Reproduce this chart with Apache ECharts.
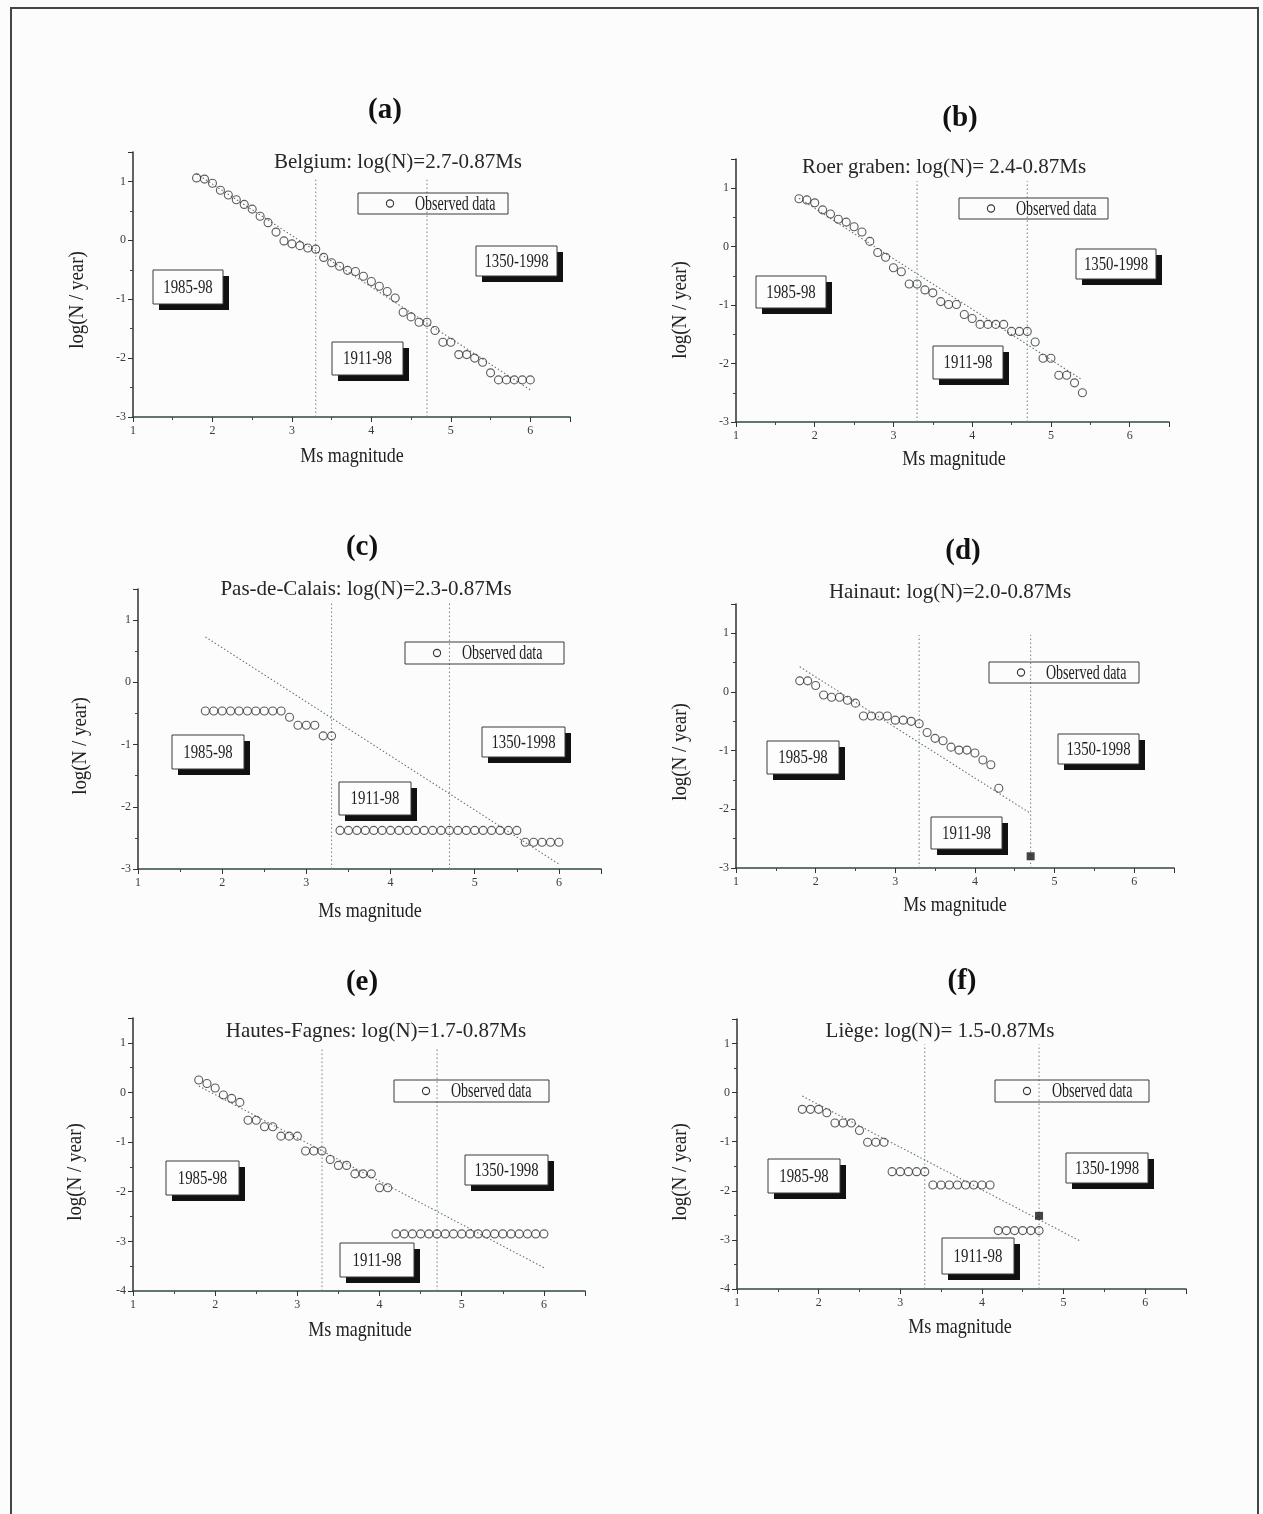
<!DOCTYPE html>
<html>
<head>
<meta charset="utf-8">
<script src="https://cdn.jsdelivr.net/npm/echarts@6/dist/echarts.min.js"></script>
<style>
  html, body { margin: 0; padding: 0; background: #fcfcfc; }
  #chart { width: 1263px; height: 1514px; }
</style>
</head>
<body>
<div id="chart"></div>
<script>
// ---- Data: cumulative annual rate, log(N / year), per Ms magnitude bin ----
const panelLetters = ['(a)', '(b)', '(c)', '(d)', '(e)', '(f)'];
const regionTitles = [
  'Belgium: log(N)=2.7-0.87Ms',
  'Roer graben: log(N)= 2.4-0.87Ms',
  'Pas-de-Calais: log(N)=2.3-0.87Ms',
  'Hainaut: log(N)=2.0-0.87Ms',
  'Hautes-Fagnes: log(N)=1.7-0.87Ms',
  'Liège: log(N)= 1.5-0.87Ms'
];
const periodLabels = ['1985-98', '1911-98', '1350-1998'];
const legendLabel = 'Observed data';
const xAxisTitle = 'Ms magnitude';
const yAxisTitle = 'log(N / year)';
const xTicks = [1, 2, 3, 4, 5, 6];
const completenessBreaks = [3.3, 4.7];

// (a) Belgium
const magA = [1.8,1.9,2.0,2.1,2.2,2.3,2.4,2.5,2.6,2.7,2.8,2.9,3.0,3.1,3.2,3.3,3.4,3.5,3.6,3.7,3.8,3.9,4.0,4.1,4.2,4.3,4.4,4.5,4.6,4.7,4.8,4.9,5.0,5.1,5.2,5.3,5.4,5.5,5.6,5.7,5.8,5.9,6.0];
const logA = [1.06,1.04,0.97,0.85,0.77,0.69,0.61,0.53,0.41,0.30,0.14,-0.01,-0.06,-0.09,-0.13,-0.15,-0.29,-0.38,-0.44,-0.51,-0.53,-0.61,-0.70,-0.78,-0.87,-0.98,-1.22,-1.30,-1.39,-1.39,-1.53,-1.73,-1.73,-1.94,-1.94,-2.00,-2.07,-2.25,-2.37,-2.37,-2.37,-2.37,-2.37];
const fitA = [[1.8, 1.13], [6.0, -2.54]];

// (b) Roer graben
const magB = [1.8,1.9,2.0,2.1,2.2,2.3,2.4,2.5,2.6,2.7,2.8,2.9,3.0,3.1,3.2,3.3,3.4,3.5,3.6,3.7,3.8,3.9,4.0,4.1,4.2,4.3,4.4,4.5,4.6,4.7,4.8,4.9,5.0,5.1,5.2,5.3,5.4];
const logB = [0.82,0.80,0.75,0.63,0.56,0.47,0.42,0.34,0.25,0.09,-0.10,-0.18,-0.36,-0.43,-0.64,-0.64,-0.74,-0.79,-0.94,-0.99,-0.99,-1.16,-1.23,-1.33,-1.33,-1.33,-1.33,-1.45,-1.45,-1.45,-1.63,-1.91,-1.91,-2.20,-2.20,-2.33,-2.50];
const fitB = [[1.8, 0.83], [5.4, -2.28]];

// (c) Pas-de-Calais
const magC = [1.8,1.9,2.0,2.1,2.2,2.3,2.4,2.5,2.6,2.7,2.8,2.9,3.0,3.1,3.2,3.3,3.4,3.5,3.6,3.7,3.8,3.9,4.0,4.1,4.2,4.3,4.4,4.5,4.6,4.7,4.8,4.9,5.0,5.1,5.2,5.3,5.4,5.5,5.6,5.7,5.8,5.9,6.0];
const logC = [-0.46,-0.46,-0.46,-0.46,-0.46,-0.46,-0.46,-0.46,-0.46,-0.46,-0.56,-0.69,-0.69,-0.69,-0.86,-0.86,-2.38,-2.38,-2.38,-2.38,-2.38,-2.38,-2.38,-2.38,-2.38,-2.38,-2.38,-2.38,-2.38,-2.38,-2.38,-2.38,-2.38,-2.38,-2.38,-2.38,-2.38,-2.38,-2.57,-2.57,-2.57,-2.57,-2.57];
const fitC = [[1.8, 0.73], [6.0, -2.92]];

// (d) Hainaut
const magD = [1.8,1.9,2.0,2.1,2.2,2.3,2.4,2.5,2.6,2.7,2.8,2.9,3.0,3.1,3.2,3.3,3.4,3.5,3.6,3.7,3.8,3.9,4.0,4.1,4.2,4.3];
const logD = [0.19,0.19,0.11,-0.05,-0.09,-0.09,-0.14,-0.19,-0.41,-0.41,-0.41,-0.41,-0.48,-0.48,-0.50,-0.54,-0.69,-0.79,-0.83,-0.94,-0.99,-0.99,-1.04,-1.16,-1.24,-1.64];
const extraMagD = [4.7];
const extraLogD = [-2.80];
const fitD = [[1.8, 0.43], [4.7, -2.07]];

// (e) Hautes-Fagnes
const magE = [1.8,1.9,2.0,2.1,2.2,2.3,2.4,2.5,2.6,2.7,2.8,2.9,3.0,3.1,3.2,3.3,3.4,3.5,3.6,3.7,3.8,3.9,4.0,4.1,4.2,4.3,4.4,4.5,4.6,4.7,4.8,4.9,5.0,5.1,5.2,5.3,5.4,5.5,5.6,5.7,5.8,5.9,6.0];
const logE = [0.25,0.18,0.09,-0.05,-0.12,-0.20,-0.56,-0.56,-0.69,-0.69,-0.88,-0.88,-0.88,-1.18,-1.18,-1.18,-1.35,-1.47,-1.47,-1.64,-1.64,-1.64,-1.92,-1.92,-2.85,-2.85,-2.85,-2.85,-2.85,-2.85,-2.85,-2.85,-2.85,-2.85,-2.85,-2.85,-2.85,-2.85,-2.85,-2.85,-2.85,-2.85,-2.85];
const fitE = [[1.8, 0.13], [6.0, -3.53]];

// (f) Liège
const magF = [1.8,1.9,2.0,2.1,2.2,2.3,2.4,2.5,2.6,2.7,2.8,2.9,3.0,3.1,3.2,3.3,3.4,3.5,3.6,3.7,3.8,3.9,4.0,4.1,4.2,4.3,4.4,4.5,4.6,4.7];
const logF = [-0.34,-0.34,-0.34,-0.41,-0.62,-0.62,-0.62,-0.77,-1.01,-1.01,-1.01,-1.61,-1.61,-1.61,-1.61,-1.61,-1.88,-1.88,-1.88,-1.88,-1.88,-1.88,-1.88,-1.88,-2.81,-2.81,-2.81,-2.81,-2.81,-2.81];
const extraMagF = [4.7];
const extraLogF = [-2.51];
const fitF = [[1.8, -0.07], [5.2, -3.02]];

const yMins = [-3, -3, -3, -3, -4, -4];
const yMax = 1.5;
const guideTops = [1.03, 1.12, 1.27, 0.97, 0.91, 0.98];

const observed = [
  [magA, logA], [magB, logB], [magC, logC],
  [magD, logD], [magE, logE], [magF, logF]
];
const extras = [null, null, null, [extraMagD, extraLogD], null, [extraMagF, extraLogF]];
const fits = [fitA, fitB, fitC, fitD, fitE, fitF];

// ---- Page layout (pixels) ----
const layout = [
  { grid: {left: 133, top: 152, width: 437, height: 265}, letter: [385, 111], sub: [398, 162], yName: [77, 300], xName: [352, 456],
    legend: [358, 193, 150, 21], boxes: [[153, 270, 70, 34], [332, 342, 71, 33], [476, 246, 81, 30]] },
  { grid: {left: 736, top: 159, width: 433, height: 263}, letter: [960, 119], sub: [944, 167], yName: [680, 310], xName: [954, 459],
    legend: [959, 198, 149, 21], boxes: [[756, 276, 70, 32], [933, 346, 70, 33], [1076, 249, 80, 30]] },
  { grid: {left: 138, top: 589, width: 463, height: 280}, letter: [362, 548], sub: [366, 589], yName: [80, 746], xName: [370, 911],
    legend: [405, 642, 159, 22], boxes: [[172, 735, 72, 34], [339, 782, 72, 33], [482, 727, 83, 30]] },
  { grid: {left: 736, top: 604, width: 438, height: 264}, letter: [963, 552], sub: [950, 592], yName: [680, 752], xName: [955, 905],
    legend: [989, 662, 150, 21], boxes: [[767, 741, 72, 33], [931, 817, 71, 32], [1058, 734, 81, 30]] },
  { grid: {left: 133, top: 1018, width: 452, height: 273}, letter: [362, 983], sub: [376, 1031], yName: [75, 1172], xName: [360, 1330],
    legend: [394, 1080, 155, 22], boxes: [[166, 1161, 73, 34], [340, 1243, 74, 34], [465, 1155, 83, 30]] },
  { grid: {left: 737, top: 1019, width: 449, height: 270}, letter: [962, 982], sub: [940, 1031], yName: [680, 1172], xName: [960, 1327],
    legend: [995, 1080, 154, 22], boxes: [[768, 1159, 72, 34], [942, 1238, 72, 36], [1066, 1153, 82, 30]] }
];

const SERIF = '"Liberation Serif", "Times New Roman", serif';
const INK = '#222';

const grids = [], xAxes = [], yAxes = [], series = [], graphics = [];

// outer frame
graphics.push({
  type: 'rect', shape: {x: 11, y: 8, width: 1247, height: 1530},
  style: {fill: 'none', stroke: '#454545', lineWidth: 2}, z: 0
});

function axisCommon(lineColor, labelMargin) {
  return {
    type: 'value',
    axisLine: {show: true, onZero: false, lineStyle: {color: lineColor, width: 1.6}},
    axisTick: {show: true, length: 5, lineStyle: {color: '#333', width: 1}},
    minorTick: {show: true, splitNumber: 2, length: 3, lineStyle: {color: '#444', width: 1}},
    splitLine: {show: false},
    minorSplitLine: {show: false},
    axisLabel: {
      fontFamily: SERIF, fontSize: 12, color: '#3a3a3a', margin: labelMargin,
      formatter: v => (Number.isInteger(Math.round(v * 1000) / 1000) ? String(Math.round(v)) : '')
    }
  };
}

layout.forEach((L, i) => {
  grids.push(Object.assign({}, L.grid));

  xAxes.push(Object.assign(axisCommon('#2f4a40', 8), {
    gridIndex: i, min: xTicks[0], max: 6.5, interval: 1
  }));
  yAxes.push(Object.assign(axisCommon('#3c3c3c', 7), {
    gridIndex: i, min: yMins[i], max: yMax, interval: 1
  }));

  const [mags, logs] = observed[i];

  // completeness-period separators
  completenessBreaks.forEach(m => {
    series.push({
      type: 'line', xAxisIndex: i, yAxisIndex: i, symbol: 'none', silent: true,
      data: [[m, yMins[i]], [m, guideTops[i]]],
      lineStyle: {color: '#6f7f8c', width: 1, type: [1.5, 2.5]}, z: 1
    });
  });

  // Gutenberg-Richter fit
  series.push({
    type: 'line', xAxisIndex: i, yAxisIndex: i, symbol: 'none', silent: true,
    data: fits[i],
    lineStyle: {color: '#5d7480', width: 1.1, type: [1.5, 2.2]}, z: 2
  });

  series.push({
    name: legendLabel, type: 'scatter', xAxisIndex: i, yAxisIndex: i,
    symbol: 'circle', symbolSize: 8,
    data: mags.map((m, k) => [m, logs[k]]),
    itemStyle: {color: 'rgba(255,255,255,0)', borderColor: '#333', borderWidth: 1.1},
    z: 3
  });

  if (extras[i]) {
    const [em, el] = extras[i];
    series.push({
      type: 'scatter', xAxisIndex: i, yAxisIndex: i,
      symbol: 'rect', symbolSize: 8,
      data: em.map((m, k) => [m, el[k]]),
      itemStyle: {color: '#151515'}, z: 4
    });
  }

  // panel letter
  graphics.push({
    type: 'text', x: L.letter[0], y: L.letter[1],
    style: {text: panelLetters[i], font: 'bold 29px ' + SERIF, fill: '#111', textAlign: 'center', textVerticalAlign: 'middle'}
  });
  // regional relation
  graphics.push({
    type: 'text', x: L.sub[0], y: L.sub[1],
    style: {text: regionTitles[i], font: '21px ' + SERIF, fill: '#262626', textAlign: 'center', textVerticalAlign: 'middle'}
  });
  // axis titles
  graphics.push({
    type: 'text', x: L.xName[0], y: L.xName[1], scaleX: 0.82,
    style: {text: xAxisTitle, font: '22px ' + SERIF, fill: INK, textAlign: 'center', textVerticalAlign: 'middle'}
  });
  graphics.push({
    type: 'text', x: L.yName[0], y: L.yName[1], rotation: Math.PI / 2, scaleX: 0.86,
    style: {text: yAxisTitle, font: '22px ' + SERIF, fill: INK, textAlign: 'center', textVerticalAlign: 'middle'}
  });

  // legend box
  const [lx, ly, lw, lh] = L.legend;
  graphics.push({
    type: 'rect', shape: {x: lx, y: ly, width: lw, height: lh},
    style: {fill: 'none', stroke: '#3a3a3a', lineWidth: 1}, z: 10
  });
  graphics.push({
    type: 'circle', shape: {cx: lx + 32, cy: ly + lh / 2, r: 3.6},
    style: {fill: 'none', stroke: '#333', lineWidth: 1.1}, z: 10
  });
  graphics.push({
    type: 'text', x: lx + 57, y: ly + lh / 2 + 1, scaleX: 0.7, z: 10,
    style: {text: legendLabel, font: '20px ' + SERIF, fill: INK, textAlign: 'left', textVerticalAlign: 'middle'}
  });

  // period boxes with drop shadow
  L.boxes.forEach((b, k) => {
    const [bx, by, bw, bh] = b;
    graphics.push({
      type: 'rect', shape: {x: bx + 6, y: by + 6, width: bw, height: bh},
      style: {fill: '#111'}, z: 11
    });
    graphics.push({
      type: 'rect', shape: {x: bx, y: by, width: bw, height: bh},
      style: {fill: '#fdfdfd', stroke: '#3a3a3a', lineWidth: 1}, z: 12
    });
    graphics.push({
      type: 'text', x: bx + bw / 2, y: by + bh / 2 + 1, scaleX: 0.78, z: 13,
      style: {text: periodLabels[k], font: '19px ' + SERIF, fill: INK, textAlign: 'center', textVerticalAlign: 'middle'}
    });
  });
});

const chart = echarts.init(document.getElementById('chart'), null, {renderer: 'canvas'});
chart.setOption({
  backgroundColor: '#fcfcfc',
  animation: false,
  grid: grids,
  xAxis: xAxes,
  yAxis: yAxes,
  series: series,
  graphic: graphics
});
</script>
</body>
</html>
